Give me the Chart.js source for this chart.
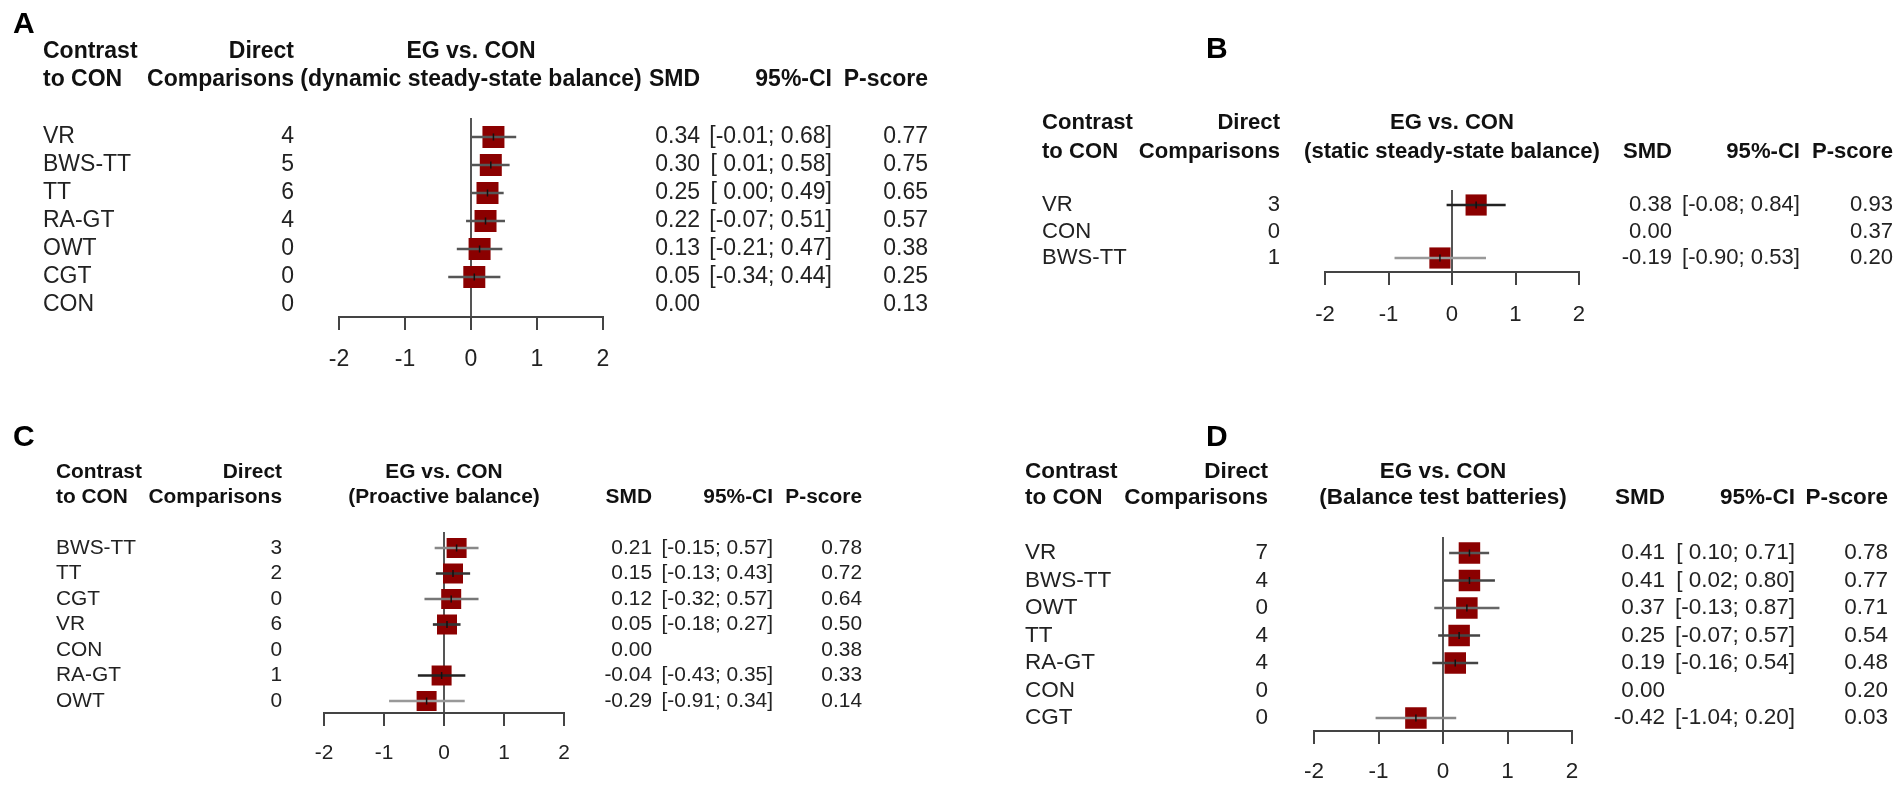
<!DOCTYPE html>
<html>
<head>
<meta charset="utf-8">
<script src="https://cdn.jsdelivr.net/npm/chart.js@4.4.1/dist/chart.umd.min.js"></script>
<style>
  html, body { margin: 0; padding: 0; background: #fff; }
  #wrap { position: relative; width: 1904px; height: 787px; }
  #wrap canvas { position: absolute; left: 0; top: 0; }
</style>
</head>
<body>
<div id="wrap">
  <canvas id="panelA" width="1904" height="787"></canvas>
  <canvas id="panelB" width="1904" height="787"></canvas>
  <canvas id="panelC" width="1904" height="787"></canvas>
  <canvas id="panelD" width="1904" height="787"></canvas>
</div>
<script>
// A - dynamic steady-state balance
const labelsA = ['VR', 'BWS-TT', 'TT', 'RA-GT', 'OWT', 'CGT', 'CON'];
const directA = [4, 5, 6, 4, 0, 0, 0];
const smdA = [0.34, 0.30, 0.25, 0.22, 0.13, 0.05, 0.00];
const lowA = [-0.01, 0.01, 0.00, -0.07, -0.21, -0.34, null];
const highA = [0.68, 0.58, 0.49, 0.51, 0.47, 0.44, null];
const pA = [0.77, 0.75, 0.65, 0.57, 0.38, 0.25, 0.13];

// B - static steady-state balance
const labelsB = ['VR', 'CON', 'BWS-TT'];
const directB = [3, 0, 1];
const smdB = [0.38, 0.00, -0.19];
const lowB = [-0.08, null, -0.90];
const highB = [0.84, null, 0.53];
const pB = [0.93, 0.37, 0.20];

// C - proactive balance
const labelsC = ['BWS-TT', 'TT', 'CGT', 'VR', 'CON', 'RA-GT', 'OWT'];
const directC = [3, 2, 0, 6, 0, 1, 0];
const smdC = [0.21, 0.15, 0.12, 0.05, 0.00, -0.04, -0.29];
const lowC = [-0.15, -0.13, -0.32, -0.18, null, -0.43, -0.91];
const highC = [0.57, 0.43, 0.57, 0.27, null, 0.35, 0.34];
const pC = [0.78, 0.72, 0.64, 0.50, 0.38, 0.33, 0.14];

// D - balance test batteries
const labelsD = ['VR', 'BWS-TT', 'OWT', 'TT', 'RA-GT', 'CON', 'CGT'];
const directD = [7, 4, 0, 4, 4, 0, 0];
const smdD = [0.41, 0.41, 0.37, 0.25, 0.19, 0.00, -0.42];
const lowD = [0.10, 0.02, -0.13, -0.07, -0.16, null, -1.04];
const highD = [0.71, 0.80, 0.87, 0.57, 0.54, null, 0.20];
const pD = [0.78, 0.77, 0.71, 0.54, 0.48, 0.20, 0.03];

const xTicks = [-2, -1, 0, 1, 2];

// line shades of the CI whiskers (as they look in the picture)
const shadeA = ['#555', '#555', '#555', '#555', '#555', '#555', null];
const shadeB = ['#222', null, '#999'];
const shadeC = ['#888', '#333', '#777', '#333', null, '#222', '#999'];
const shadeD = ['#555', '#444', '#666', '#444', '#444', null, '#888'];

const FONT = '"Liberation Sans", Arial, sans-serif';
const SQUARE = '#8b0000';
const BASE_FONT = 23;   // text size of panel A, others are scaled by k
const BASE_SIDE = 22;   // square side in panel A
const TICK_LEN = 13;

// each panel was pasted in at its own scale (k = px per unit / 66)
const panels = [
  { id: 'panelA', tag: 'A', labels: labelsA, direct: directA, smd: smdA, low: lowA, high: highA, p: pA,
    subtitle: '(dynamic steady-state balance)', shade: shadeA,
    L: { k: 1, tagX: 13, tagY: 25, colLabel: 43, colDirect: 294, colSmd: 700, colCi: 832, colP: 928,
         head1: 52, head2: 80, xLeft: 339, xRight: 603, top: 118, axisY: 317, firstRow: 137, rowGap: 28,
         labelGap: 43 } },
  { id: 'panelB', tag: 'B', labels: labelsB, direct: directB, smd: smdB, low: lowB, high: highB, p: pB,
    subtitle: '(static steady-state balance)', shade: shadeB,
    L: { k: 0.962, tagX: 1206, tagY: 50, colLabel: 1042, colDirect: 1280, colSmd: 1672, colCi: 1800, colP: 1893,
         head1: 123, head2: 152, xLeft: 1325, xRight: 1579, top: 190, axisY: 272, firstRow: 205, rowGap: 26.5,
         labelGap: 43 } },
  { id: 'panelC', tag: 'C', labels: labelsC, direct: directC, smd: smdC, low: lowC, high: highC, p: pC,
    subtitle: '(Proactive balance)', shade: shadeC,
    L: { k: 0.909, tagX: 13, tagY: 438, colLabel: 56, colDirect: 282, colSmd: 652, colCi: 773, colP: 862,
         head1: 472, head2: 497, xLeft: 324, xRight: 564, top: 532, axisY: 713, firstRow: 548, rowGap: 25.5,
         labelGap: 40 } },
  { id: 'panelD', tag: 'D', labels: labelsD, direct: directD, smd: smdD, low: lowD, high: highD, p: pD,
    subtitle: '(Balance test batteries)', shade: shadeD,
    L: { k: 0.977, tagX: 1206, tagY: 438, colLabel: 1025, colDirect: 1268, colSmd: 1665, colCi: 1795, colP: 1888,
         head1: 472, head2: 498, xLeft: 1314, xRight: 1572, top: 537, axisY: 731, firstRow: 553, rowGap: 27.5,
         labelGap: 41 } }
];

function ciText(lo, hi) {
  if (lo === null) return '';
  return '[' + (lo < 0 ? '' : ' ') + lo.toFixed(2) + '; ' + hi.toFixed(2) + ']';
}

// text columns of the forest table, placed on the rows of the y scale
function tablePlugin(pn) {
  return {
    id: 'forestTable' + pn.tag,
    afterDraw(chart) {
      const ctx = chart.ctx, y = chart.scales.y, x = chart.scales.x, L = pn.L;
      const x0 = x.getPixelForValue(0);
      const size = (BASE_FONT * L.k).toFixed(1) + 'px ';
      ctx.save();
      ctx.textBaseline = 'middle';

      ctx.font = 'bold 30px ' + FONT;
      ctx.fillStyle = '#000';
      ctx.textAlign = 'left';
      ctx.fillText(pn.tag, L.tagX, L.tagY);

      ctx.font = 'bold ' + size + FONT;
      ctx.fillStyle = '#111';
      ctx.textAlign = 'left';
      ctx.fillText('Contrast', L.colLabel, L.head1);
      ctx.fillText('to CON', L.colLabel, L.head2);
      ctx.textAlign = 'right';
      ctx.fillText('Direct', L.colDirect, L.head1);
      ctx.fillText('Comparisons', L.colDirect, L.head2);
      ctx.textAlign = 'center';
      ctx.fillText('EG vs. CON', x0, L.head1);
      ctx.fillText(pn.subtitle, x0, L.head2);
      ctx.textAlign = 'right';
      ctx.fillText('SMD', L.colSmd, L.head2);
      ctx.fillText('95%-CI', L.colCi, L.head2);
      ctx.fillText('P-score', L.colP, L.head2);

      ctx.font = size + FONT;
      ctx.fillStyle = '#222';
      pn.labels.forEach((lab, i) => {
        const yy = y.getPixelForValue(i);
        ctx.textAlign = 'left';
        ctx.fillText(lab, L.colLabel, yy);
        ctx.textAlign = 'right';
        ctx.fillText(String(pn.direct[i]), L.colDirect, yy);
        ctx.fillText(pn.smd[i].toFixed(2), L.colSmd, yy);
        ctx.fillText(ciText(pn.low[i], pn.high[i]), L.colCi, yy);
        ctx.fillText(pn.p[i].toFixed(2), L.colP, yy);
      });
      ctx.restore();
    }
  };
}

function drawPanel(pn) {
  const L = pn.L;
  const rows = pn.labels.map((_, i) => i).filter(i => pn.low[i] !== null);
  const yMin = -(L.firstRow - L.top) / L.rowGap;
  const yMax = yMin + (L.axisY - L.top) / L.rowGap;
  const axisH = Math.min(L.labelGap + 16, 787 - L.axisY);
  const fontSize = BASE_FONT * L.k;

  new Chart(document.getElementById(pn.id), {
    type: 'scatter',
    data: {
      datasets: [
        {
          type: 'bar',
          indexAxis: 'y',
          data: rows.map(i => ({ y: i, x: [pn.low[i], pn.high[i]] })),
          backgroundColor: rows.map(i => pn.shade[i]),
          borderWidth: 0,
          barThickness: 2,
          order: 1
        },
        {
          data: rows.map(i => ({ x: pn.smd[i], y: i })),
          pointStyle: 'rect',
          pointRadius: BASE_SIDE * L.k / Math.SQRT2,
          pointBackgroundColor: SQUARE,
          pointBorderWidth: 0,
          order: 2
        },
        {
          data: rows.map(i => ({ x: pn.smd[i], y: i })),
          pointStyle: 'line',
          pointRotation: 90,
          pointRadius: 3.5,
          pointBorderColor: '#111',
          pointBorderWidth: 1.5,
          order: 0
        }
      ]
    },
    options: {
      responsive: false,
      animation: false,
      clip: false,
      events: [],
      layout: { padding: { left: L.xLeft, right: 1904 - L.xRight, top: L.top, bottom: 787 - L.axisY - axisH } },
      plugins: { legend: { display: false }, tooltip: { enabled: false } },
      scales: {
        x: {
          type: 'linear', min: -2, max: 2, offset: false,
          afterBuildTicks: s => { s.ticks = xTicks.map(v => ({ value: v })); },
          afterFit: s => { s.height = axisH; },
          ticks: { color: '#222', font: { family: FONT, size: fontSize }, padding: L.labelGap - TICK_LEN - fontSize * 0.6, maxRotation: 0, autoSkip: false },
          border: { display: true, color: '#444', width: 2 },
          grid: {
            offset: false,
            drawOnChartArea: true,
            color: c => (c.tick && c.tick.value === 0 ? '#555' : 'rgba(0,0,0,0)'),
            lineWidth: 2,
            tickLength: TICK_LEN,
            tickColor: '#444',
            tickWidth: 2
          }
        },
        y: {
          type: 'linear', display: false, reverse: true, min: yMin, max: yMax,
          offset: false, grid: { offset: false }
        }
      }
    },
    plugins: [tablePlugin(pn)]
  });
}

panels.forEach(drawPanel);
</script>
</body>
</html>
